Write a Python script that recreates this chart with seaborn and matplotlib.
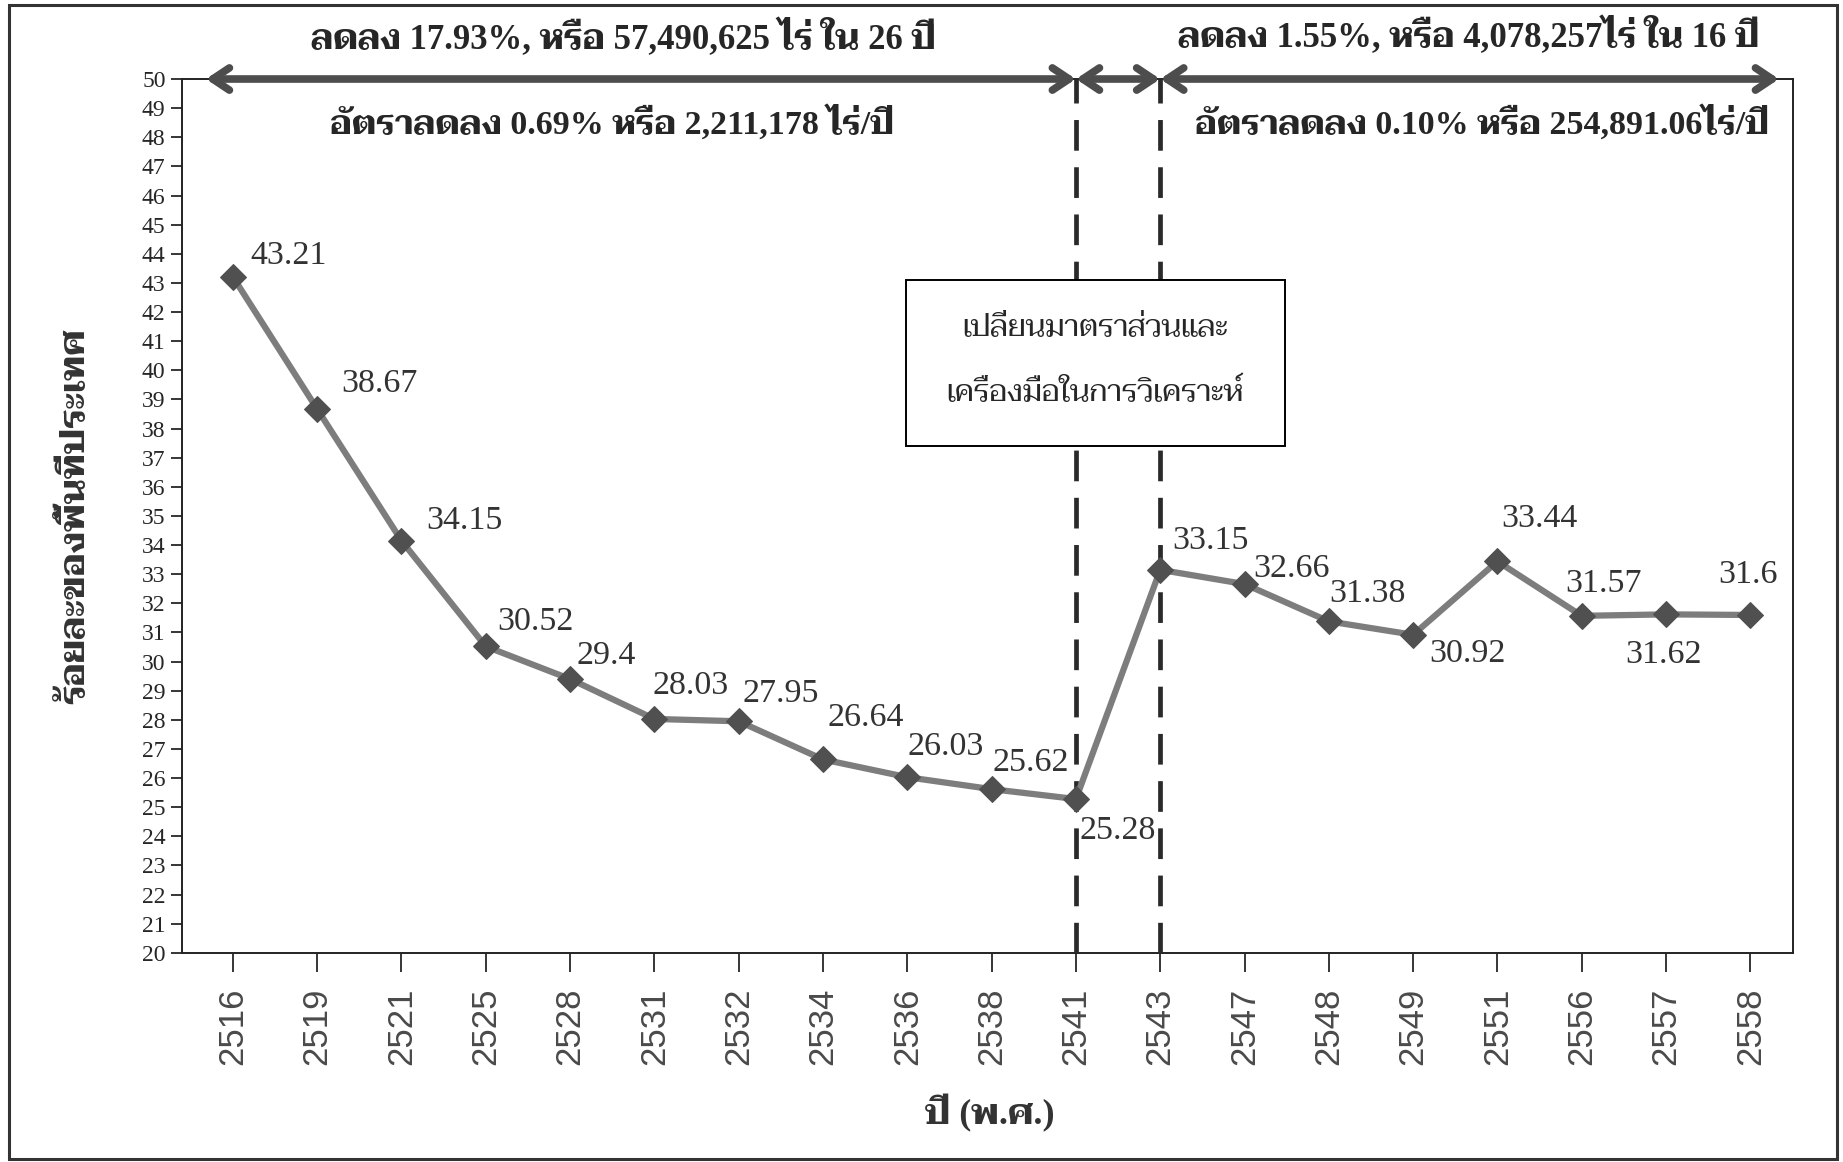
import matplotlib
matplotlib.use("Agg")
import matplotlib.pyplot as plt
import seaborn as sns
import pandas as pd
from matplotlib.patches import Rectangle

# data
years = ["2516", "2519", "2521", "2525", "2528", "2531", "2532", "2534", "2536", "2538",
         "2541", "2543", "2547", "2548", "2549", "2551", "2556", "2557", "2558"]
percent = [43.21, 38.67, 34.15, 30.52, 29.4, 28.03, 27.95, 26.64, 26.03, 25.62,
           25.28, 33.15, 32.66, 31.38, 30.92, 33.44, 31.57, 31.62, 31.6]
# label offsets (points) around each marker
label_dx = [40, 45, 45, 36, 26, 26, 30, 31, 28, 28, 30, 36, 34, 28, 39, 30, 16, -2, -2]
label_dy = [15, 18, 14, 18, 17, 24, 20, 30, 22, 19, -23, 21, 11, 20, -14, 31, 23, -29, 29]

title_left = "ลดลง 17.93%, หรือ 57,490,625 ไร่ ใน 26 ปี"
rate_left = "อัตราลดลง 0.69% หรือ 2,211,178 ไร่/ปี"
title_right = "ลดลง 1.55%, หรือ 4,078,257ไร่ ใน 16 ปี"
rate_right = "อัตราลดลง 0.10% หรือ 254,891.06ไร่/ปี"
note_lines = ["เปลี่ยนมาตราส่วนและ", "เครื่องมือในการวิเคราะห์"]
ylabel = "ร้อยละของพื้นที่ประเทศ"
xlabel = "ปี (พ.ศ.)"

df = pd.DataFrame({"pos": range(len(years)), "year": years, "percent": percent})

sns.set_style("white")
serif = ["Liberation Serif", "Taviraj", "Sarabun", "Noto Serif Thai", "DejaVu Sans"]
plt.rcParams["font.family"] = serif

fig = plt.figure(figsize=(18.43, 11.62), dpi=100)
ax = fig.add_axes([0.0989, 0.180, 0.8737, 0.752])

sns.lineplot(data=df, x="pos", y="percent", ax=ax, color="#7d7d7d", linewidth=4.5,
             marker="D", markersize=13, markerfacecolor="#505050",
             markeredgecolor="#505050", zorder=5)

for i, row in df.iterrows():
    ax.annotate(f"{row['percent']:g}", (row["pos"], row["percent"]),
                xytext=(label_dx[i], label_dy[i]), textcoords="offset points",
                ha="center", va="center", fontsize=24.5, color="#333333", zorder=6)

# dashed separators at 2541 and 2543
for p in (10, 11):
    ax.plot([p, p], [20, 50], color="#2a2a2a", lw=3.4, dashes=(6.5, 3.5), zorder=3)

# note box
ax.add_patch(Rectangle((7.98, 37.39), 4.5, 5.72, facecolor="white",
                       edgecolor="black", lw=1.4, zorder=4))
ax.text(10.23, 41.45, note_lines[0], ha="center", va="center", fontsize=22, zorder=5)
ax.text(10.23, 39.2, note_lines[1], ha="center", va="center", fontsize=22, zorder=5)

# period arrows along the top edge
arrow = dict(arrowstyle="<->,head_length=1.2,head_width=0.8", lw=5.5,
             color="#4d4d4d", shrinkA=0, shrinkB=0)
for a, b in ((-0.32, 10), (10, 11), (11, 18.34)):
    ax.annotate("", xy=(b, 50), xytext=(a, 50), arrowprops=arrow,
                annotation_clip=False, zorder=7)

fig.text(0.338, 0.967, title_left, ha="center", va="center", fontsize=25, fontweight="bold")
fig.text(0.332, 0.894, rate_left, ha="center", va="center", fontsize=24.5, fontweight="bold")
fig.text(0.797, 0.969, title_right, ha="center", va="center", fontsize=25, fontweight="bold")
fig.text(0.804, 0.894, rate_right, ha="center", va="center", fontsize=24.5, fontweight="bold")

ax.set_xlim(-0.6, 18.5)
ax.set_ylim(20, 50)
ax.set_xticks(df["pos"])
ax.set_xticklabels(years, rotation=90, fontsize=25, color="#4a4a4a",
                   family=["Liberation Sans", "DejaVu Sans"])
ax.set_yticks(range(20, 51))
ax.set_yticklabels([str(v) for v in range(20, 51)], fontsize=17)
ax.tick_params(axis="y", length=8, width=1.3, direction="out", left=True, pad=4)
ax.tick_params(axis="x", length=14, width=1.3, direction="out", bottom=True, pad=11)
for s in ax.spines.values():
    s.set_color("#222222")
    s.set_linewidth(1.4)

ax.set_xlabel("")
ax.set_ylabel("")
fig.text(0.041, 0.556, ylabel, rotation=90, ha="center", va="center",
         fontsize=26, fontweight="bold", color="#333333")
fig.text(0.537, 0.042, xlabel, ha="center", va="center",
         fontsize=26, fontweight="bold", color="#333333")

# outer frame of the picture
fig.add_artist(Rectangle((0.005, 0.003), 0.992, 0.993, transform=fig.transFigure,
                         fill=False, edgecolor="#333333", lw=2.2))

fig.savefig("out.png", dpi=100)
